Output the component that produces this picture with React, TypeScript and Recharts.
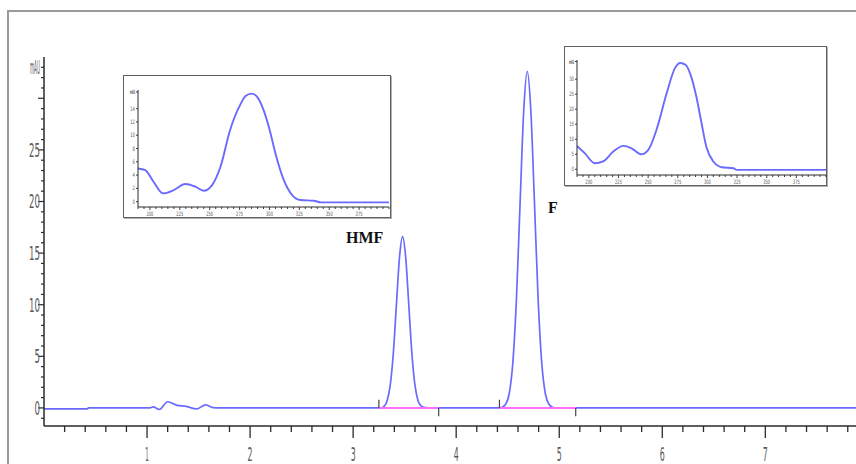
import React from 'react';
import { LineChart, Line, XAxis, YAxis, ReferenceLine } from 'recharts';

// ---- main chromatogram (time, min / signal, mAU) ----
const mainTime = [
  0, 0.42, 0.43, 1.02, 1.06, 1.12, 1.2, 1.29, 1.38, 1.48, 1.57, 1.64, 1.7,
  3.27, 3.3, 3.33, 3.36, 3.39, 3.42, 3.45, 3.48, 3.51, 3.54, 3.57, 3.6, 3.63, 3.66, 3.69, 3.72,
  4.41, 4.445, 4.48, 4.515, 4.55, 4.585, 4.62, 4.655, 4.69, 4.725, 4.76, 4.795, 4.83, 4.865, 4.9, 4.935, 4.97,
  7.88,
];
const mainSignal = [
  -0.1, -0.1, 0, 0, 0.1, -0.15, 0.6, 0.25, 0.15, -0.1, 0.3, 0.03, 0,
  0, 0.15, 0.7, 2.2, 5.3, 10, 14.6, 16.6, 14.6, 10, 5.3, 2.2, 0.7, 0.2, 0.05, 0,
  0, 0.07, 0.36, 1.4, 4.4, 10.6, 19.8, 28.7, 32.6, 28.7, 19.8, 10.6, 4.4, 1.4, 0.36, 0.07, 0,
  0,
];

const xTicks = [
  0.2, 0.4, 0.6, 0.8, 1, 1.2, 1.4, 1.6, 1.8, 2, 2.2, 2.4, 2.6, 2.8, 3, 3.2, 3.4, 3.6, 3.8,
  4, 4.2, 4.4, 4.6, 4.8, 5, 5.2, 5.4, 5.6, 5.8, 6, 6.2, 6.4, 6.6, 6.8, 7, 7.2, 7.4, 7.6, 7.8,
];
const xLabelValues = [1, 2, 3, 4, 5, 6, 7];
const xLabelTexts = ['1', '2', '3', '4', '5', '6', '7'];

const yTicks = [
  -1, 0, 1, 2, 3, 4, 5, 6, 7, 8, 9, 10, 11, 12, 13, 14, 15, 16, 17, 18, 19, 20,
  21, 22, 23, 24, 25, 26, 27, 28, 29, 30, 31, 32, 33,
];
const yLabelValues = [0, 5, 10, 15, 20, 25, 33];
const yLabelTexts = ['0', '5', '10', '15', '20', '25', 'mAU'];

// integration baselines (start, end) in minutes
const baseStarts = [3.25, 4.42];
const baseEnds = [3.83, 5.16];

// ---- UV spectra insets (nm / mAU) ----
const spec1Nm = [190, 196, 203, 211, 220, 229.5, 238, 245, 252, 259, 267, 276, 280, 285, 290, 295, 300, 305, 312, 319, 326, 337, 343, 401];
const spec1Abs = [5.0, 4.75, 3.0, 1.25, 1.75, 2.65, 2.25, 1.65, 2.5, 5.25, 10.75, 14.75, 15.9, 16.25, 15.7, 13.8, 10.9, 7.25, 3.25, 1.0, 0.25, 0.15, -0.1, -0.1];
const spec2Nm = [190, 196.7, 205, 212, 220.6, 229, 236, 244, 250, 257, 265.6, 272.6, 277, 281.5, 286, 290.5, 294.5, 299, 305, 312, 322, 324.6, 401];
const spec2Abs = [7.8, 5.3, 2.0, 2.6, 5.9, 7.8, 7.0, 5.0, 6.4, 13.1, 25.3, 33.7, 35.4, 34.8, 31.2, 24.5, 16.5, 7.6, 2.6, 0.7, 0.33, -0.2, -0.2];

const insetXTicks = [
  190, 195, 200, 205, 210, 215, 220, 225, 230, 235, 240, 245, 250, 255, 260, 265, 270, 275, 280, 285, 290,
  295, 300, 305, 310, 315, 320, 325, 330, 335, 340, 345, 350, 355, 360, 365, 370, 375, 380, 385, 390, 395, 400,
];
const insetXLabelValues = [200, 225, 250, 275, 300, 325, 350, 375];
const insetXLabelTexts = ['200', '225', '250', '275', '300', '325', '350', '375'];
const inset1YTicks = [0, 2, 4, 6, 8, 10, 12, 14, 16.5];
const inset1YLabels = ['0', '2', '4', '6', '8', '10', '12', '14', 'mAU'];
const inset2YTicks = [0, 5, 10, 15, 20, 25, 30, 35.9];
const inset2YLabels = ['0', '5', '10', '15', '20', '25', '30', 'mAU'];

const mainData = mainTime.map((t, i) => ({ t, v: mainSignal[i] }));
const spec1Data = spec1Nm.map((nm, i) => ({ nm, a: spec1Abs[i] }));
const spec2Data = spec2Nm.map((nm, i) => ({ nm, a: spec2Abs[i] }));

const BLUE = '#6a6aff';
const AXIS = '#2a2a2a';
const LABEL = '#5a5a5a';

const MainXTick = (props: any) => {
  const { x, y, payload } = props;
  const v = payload.value;
  const idx = xLabelValues.indexOf(v);
  const major = idx >= 0;
  const txt = major ? xLabelTexts[idx] : '';
  return (
    <g>
      <line x1={x} y1={y} x2={x} y2={y + (major ? 12 : 6)} stroke={AXIS} strokeWidth={1.3} />
      {major && (
        <text x={x} y={y + 35} textAnchor="middle" fontSize={19} fill={LABEL}
          fontFamily="DejaVu Sans" textLength={txt === '1' ? 3.5 : 5} lengthAdjust="spacingAndGlyphs">
          {txt}
        </text>
      )}
    </g>
  );
};

const MainYTick = (props: any) => {
  const { x, y, payload } = props;
  const v = payload.value;
  const idx = yLabelValues.indexOf(v);
  const major = v % 5 === 0;
  const txt = idx >= 0 ? yLabelTexts[idx] : '';
  return (
    <g>
      <line x1={x - (major ? 6 : 3)} y1={y} x2={x} y2={y} stroke={AXIS} strokeWidth={1.2} />
      {idx >= 0 && (
        <text x={x - 4} y={y} dy="0.36em" textAnchor="end" fontSize={19} fill={LABEL}
          fontFamily="DejaVu Sans" textLength={txt === 'mAU' ? 10 : txt.length * 5.5} lengthAdjust="spacingAndGlyphs">
          {txt}
        </text>
      )}
    </g>
  );
};

const InsetXTick = (props: any) => {
  const { x, y, payload } = props;
  const v = payload.value;
  const idx = insetXLabelValues.indexOf(v);
  return (
    <g>
      <line x1={x} y1={y} x2={x} y2={y + (idx >= 0 ? 3 : 2)} stroke={AXIS} strokeWidth={0.9} />
      {idx >= 0 && (
        <text x={x} y={y + 8.5} textAnchor="middle" fontSize={6} fill={LABEL}
          fontFamily="DejaVu Sans" textLength={7} lengthAdjust="spacingAndGlyphs">
          {insetXLabelTexts[idx]}
        </text>
      )}
    </g>
  );
};

const makeInsetYTick = (values: number[], labels: string[]) => (props: any) => {
  const { x, y, payload } = props;
  const idx = values.indexOf(payload.value);
  const txt = idx >= 0 ? labels[idx] : '';
  return (
    <g>
      <line x1={x - 2} y1={y} x2={x} y2={y} stroke={AXIS} strokeWidth={0.9} />
      <text x={x - 3} y={y} dy="0.35em" textAnchor="end" fontSize={6} fill={LABEL}
        fontFamily="DejaVu Sans" textLength={txt === 'mAU' ? 5 : txt.length * 2.4} lengthAdjust="spacingAndGlyphs"
        fontWeight={txt === 'mAU' ? 'bold' : 'normal'}>
        {txt}
      </text>
    </g>
  );
};

type InsetProps = {
  left: number; top: number; width: number; height: number;
  data: any[]; yDomain: [number, number]; yTicks: number[]; yLabels: string[];
  margin: { top: number; right: number; left: number; bottom: number };
  yWidth: number;
};

const Inset = (p: InsetProps) => {
  const YT = makeInsetYTick(p.yTicks, p.yLabels);
  return (
    <>
      <div style={{
        position: 'absolute', left: p.left, top: p.top, width: p.width, height: p.height,
        boxSizing: 'border-box', border: '1.6px solid #606060', background: '#fff',
        boxShadow: '1px 1px 0 #b0b0b0',
      }} />
      <div style={{ position: 'absolute', left: p.left, top: p.top }}>
        <LineChart width={p.width} height={p.height} data={p.data} margin={p.margin}>
          <XAxis type="number" dataKey="nm" domain={[190, 400]} ticks={insetXTicks} interval={0}
            tick={<InsetXTick />} tickLine={false} tickSize={0} tickMargin={0} height={11}
            axisLine={{ stroke: AXIS, strokeWidth: 1 }} allowDataOverflow />
          <YAxis type="number" domain={p.yDomain} ticks={p.yTicks} interval={0} tick={<YT />}
            tickLine={false} tickSize={0} tickMargin={0} width={p.yWidth}
            axisLine={{ stroke: AXIS, strokeWidth: 1 }} allowDataOverflow />
          <Line type="monotone" dataKey="a" stroke={BLUE} strokeWidth={1.9} dot={false} isAnimationActive={false} />
        </LineChart>
      </div>
    </>
  );
};

export default function App() {
  return (
    <div style={{ position: 'fixed', left: 0, top: 0, width: 856, height: 464, overflow: 'hidden', background: '#fff' }}>
      <div style={{
        position: 'absolute', left: 7, top: 10, width: 920, height: 520,
        border: '2px solid #9a9a9a', boxSizing: 'border-box',
      }} />
      <div style={{ position: 'absolute', left: 0, top: 0 }}>
        <LineChart width={856} height={464} data={mainData} margin={{ top: 57, right: 0, bottom: 0, left: 0 }}>
          <XAxis type="number" dataKey="t" domain={[0, 7.88]} ticks={xTicks} interval={0}
            tick={<MainXTick />} tickLine={false} tickSize={0} tickMargin={0} height={38}
            axisLine={{ stroke: AXIS, strokeWidth: 1.5 }} allowDataOverflow />
          <YAxis type="number" domain={[-1.75, 34]} ticks={yTicks} interval={0} tick={<MainYTick />}
            tickLine={false} tickSize={0} tickMargin={0} width={44}
            axisLine={{ stroke: AXIS, strokeWidth: 1.5 }} allowDataOverflow />
          <Line type="monotone" dataKey="v" stroke={BLUE} strokeWidth={1.7} dot={false} isAnimationActive={false} />
          {baseStarts.map((s, i) => (
            <ReferenceLine key={'b' + i} segment={[{ x: s, y: 0 }, { x: baseEnds[i], y: 0 }]}
              stroke="#ff70ff" strokeWidth={2} ifOverflow="visible" />
          ))}
          {baseStarts.map((s, i) => (
            <ReferenceLine key={'s' + i} segment={[{ x: s, y: 0 }, { x: s, y: 0.8 }]}
              stroke="#444" strokeWidth={1.2} ifOverflow="visible" />
          ))}
          {baseEnds.map((e, i) => (
            <ReferenceLine key={'e' + i} segment={[{ x: e, y: 0 }, { x: e, y: -0.8 }]}
              stroke="#444" strokeWidth={1.2} ifOverflow="visible" />
          ))}
        </LineChart>
      </div>
      <svg width={856} height={464} style={{ position: 'absolute', left: 0, top: 0, pointerEvents: 'none' }}>
        <text x={346} y={243} fontSize={16} fontWeight="bold" fontFamily="Liberation Serif" fill="#111">HMF</text>
        <text x={548} y={213} fontSize={16} fontWeight="bold" fontFamily="Liberation Serif" fill="#111">F</text>
      </svg>
      <Inset left={123} top={75} width={268} height={143} data={spec1Data} yDomain={[-0.8, 16.8]}
        yTicks={inset1YTicks} yLabels={inset1YLabels} margin={{ top: 15, right: 2, left: 0, bottom: 0 }} yWidth={15} />
      <Inset left={564} top={46} width={263} height={140} data={spec2Data} yDomain={[-1.9, 36.4]}
        yTicks={inset2YTicks} yLabels={inset2YLabels} margin={{ top: 14, right: 1, left: 0, bottom: 0 }} yWidth={13} />
    </div>
  );
}
